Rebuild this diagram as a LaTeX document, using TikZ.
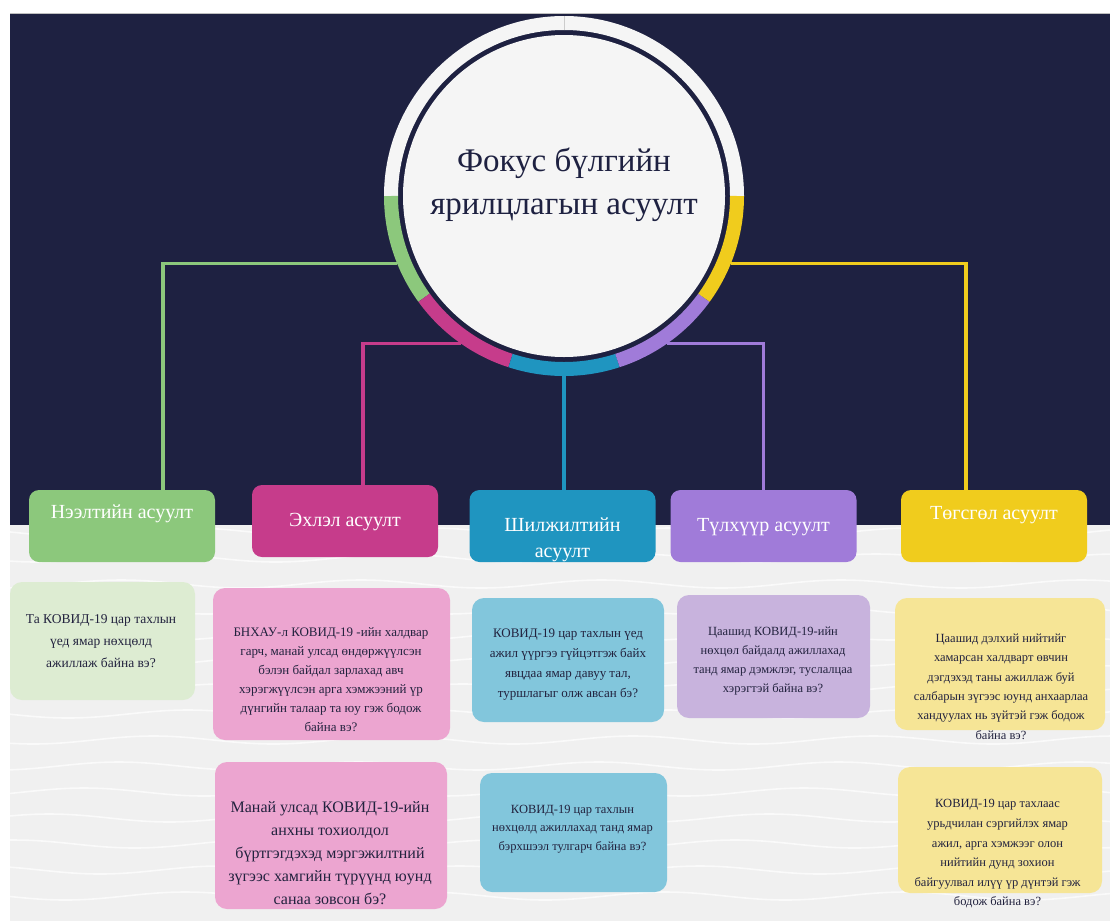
\documentclass[tikz,border=0pt]{standalone}
\usepackage{fontspec}
\setmainfont{Liberation Serif}
\usepackage{xcolor}
\usepackage{tikz}

\definecolor{navy}{HTML}{1E2141}
\definecolor{paper}{HTML}{F0F0F0}
\definecolor{disk}{HTML}{F5F5F5}
\definecolor{gcol}{HTML}{8CC87C}
\definecolor{mcol}{HTML}{C63C8B}
\definecolor{ccol}{HTML}{1F95C0}
\definecolor{pcol}{HTML}{A07BD9}
\definecolor{ycol}{HTML}{F0CC1D}
\definecolor{gbody}{HTML}{DDECD2}
\definecolor{mbody}{HTML}{ECA5D0}
\definecolor{cbody}{HTML}{82C6DC}
\definecolor{pbody}{HTML}{C8B3DD}
\definecolor{ybody}{HTML}{F6E596}
\definecolor{qink}{HTML}{22223E}

\tikzset{
  hbox/.style={rectangle, rounded corners=10pt, minimum width=186pt, minimum height=72pt, inner sep=0pt},
  qbox/.style={rectangle, rounded corners=12pt, inner sep=0pt},
  htext/.style={text=white, align=center, font=\fontsize{20}{26}\selectfont},
  qtext/.style 2 args={text=qink, align=center, inner sep=0pt, font=\fontsize{#1}{#2}\selectfont},
  link/.style={line width=3.5pt},
  ring/.style={line width=14pt},
  wave/.style={white!70!paper, line width=1.6pt}
}

\begin{document}
\begin{tikzpicture}[x=1pt, y=-1pt]
\useasboundingbox (0,0) rectangle (1110,921);
\fill[white] (0,0) rectangle (1110,921);

% Background: dark top, wavy light bottom
\fill[navy] (10,13) rectangle (1110,525);
\draw[black!25, line width=0.8pt] (10,13) -- (1110,13);
\fill[paper] (10,525) rectangle (1110,921);
\begin{scope}
  \clip (10,525) rectangle (1110,921);
  \foreach \wy in {532,558,...,921}
    \draw[wave] plot[domain=10:1110, samples=90, smooth] (\x,{\wy+4*sin(1.5*\x+2*\wy)});
\end{scope}

% Focus circle (outer ring border)
\node[circle, minimum size=360pt, inner sep=0pt] (focus) at (564,196) {};

% Question type boxes
\node[hbox, fill=gcol] (nee) at (122,526) {};
\node[hbox, fill=mcol] (ehl) at (345,521) {};
\node[hbox, fill=ccol] (shil) at (562.5,526) {};
\node[hbox, fill=pcol] (tul) at (763.5,526) {};
\node[hbox, fill=ycol] (tog) at (994,526) {};

% Connectors from the ring
\draw[link, gcol] (focus.202) -| ([xshift=41pt]nee.north);
\draw[link, mcol] (focus.235) -| ([xshift=18pt]ehl.north);
\draw[link, ccol] (focus.south) -- (focus.south |- shil.north);
\draw[link, pcol] (focus.305) -| (tul.north);
\draw[link, ycol] (focus.338) -| ([xshift=-28pt]tog.north);

% Coloured ring segments
\draw[ring, disk] (focus.center) ++(0:173pt) arc[start angle=0, end angle=180, radius=173pt];
\draw[ring, gcol] (focus.center) ++(180:173pt) arc[start angle=180, end angle=216, radius=173pt];
\draw[ring, mcol] (focus.center) ++(216:173pt) arc[start angle=216, end angle=252, radius=173pt];
\draw[ring, ccol] (focus.center) ++(252:173pt) arc[start angle=252, end angle=288, radius=173pt];
\draw[ring, pcol] (focus.center) ++(288:173pt) arc[start angle=288, end angle=324, radius=173pt];
\draw[ring, ycol] (focus.center) ++(324:173pt) arc[start angle=324, end angle=360, radius=173pt];
\draw[black!20, line width=0.8pt] (focus.center) ++(90:166pt) -- ++(90:14pt);

% Inner disk and title
\fill[disk] (focus.center) circle[radius=161pt];
\node[text=navy, align=center, font=\fontsize{33}{43}\selectfont] (focus-t) at (564,185) {Фокус бүлгийн\\ярилцлагын асуулт};

% Header labels
\node[htext] (nee-t) at (122,514) {Нээлтийн асуулт};
\node[htext] (ehl-t) at (345,522) {Эхлэл асуулт};
\node[htext] (shil-t) at (562.5,540) {Шилжилтийн\\асуулт};
\node[htext] (tul-t) at (763.5,527) {Түлхүүр асуулт};
\node[htext] (tog-t) at (994,515) {Төгсгөл асуулт};

% Question boxes
\node[qbox, fill=gbody, minimum width=185pt, minimum height=118pt] (nee-b) at (102.5,641) {};
\node[qbox, fill=mbody, minimum width=237pt, minimum height=152pt] (ehl-b1) at (331.5,664) {};
\node[qbox, fill=mbody, minimum width=232pt, minimum height=147pt] (ehl-b2) at (331,835.5) {};
\node[qbox, fill=cbody, minimum width=192pt, minimum height=124pt] (shil-b1) at (568,660) {};
\node[qbox, fill=cbody, minimum width=187pt, minimum height=119pt] (shil-b2) at (573.5,832.5) {};
\node[qbox, fill=pbody, minimum width=193pt, minimum height=123pt] (tul-b) at (773.5,656.5) {};
\node[qbox, fill=ybody, minimum width=210pt, minimum height=132pt] (tog-b1) at (1000,664) {};
\node[qbox, fill=ybody, minimum width=204pt, minimum height=126pt] (tog-b2) at (1000,830) {};

% Question texts
\node[qtext={13.5}{22}] (nee-q) at (101,641) {Та КОВИД-19 цар тахлын\\үед ямар нөхцөлд\\ажиллаж байна вэ?};
\node[qtext={13}{19}] (ehl-q1) at (331,680) {БНХАУ-л КОВИД-19 -ийн халдвар\\гарч, манай улсад өндөржүүлсэн\\бэлэн байдал зарлахад авч\\хэрэгжүүлсэн арга хэмжээний үр\\дүнгийн талаар та юу гэж бодож\\байна вэ?};
\node[qtext={16}{23}] (ehl-q2) at (330,853.5) {Манай улсад КОВИД-19-ийн\\анхны тохиолдол\\бүртгэгдэхэд мэргэжилтний\\зүгээс хамгийн түрүүнд юунд\\санаа зовсон бэ?};
\node[qtext={13}{20}] (shil-q1) at (568,665) {КОВИД-19 цар тахлын үед\\ажил үүргээ гүйцэтгэж байх\\явцдаа ямар давуу тал,\\туршлагыг олж авсан бэ?};
\node[qtext={12.5}{18.5}] (shil-q2) at (572.5,829) {КОВИД-19 цар тахлын\\нөхцөлд ажиллахад танд ямар\\бэрхшээл тулгарч байна вэ?};
\node[qtext={12.5}{19}] (tul-q) at (773,661.5) {Цаашид КОВИД-19-ийн\\нөхцөл байдалд ажиллахад\\танд ямар дэмжлэг, туслалцаа\\хэрэгтэй байна вэ?};
\node[qtext={12.5}{19.4}] (tog-q1) at (1001,686.5) {Цаашид дэлхий нийтийг\\хамарсан халдварт өвчин\\дэгдэхэд таны ажиллаж буй\\салбарын зүгээс юунд анхаарлаа\\хандуулах нь зүйтэй гэж бодож\\байна вэ?};
\node[qtext={12.5}{19.6}] (tog-q2) at (997.5,854) {КОВИД-19 цар тахлаас\\урьдчилан сэргийлэх ямар\\ажил, арга хэмжээг олон\\нийтийн дунд зохион\\байгуулвал илүү үр дүнтэй гэж\\бодож байна вэ?};
\end{tikzpicture}
\end{document}
